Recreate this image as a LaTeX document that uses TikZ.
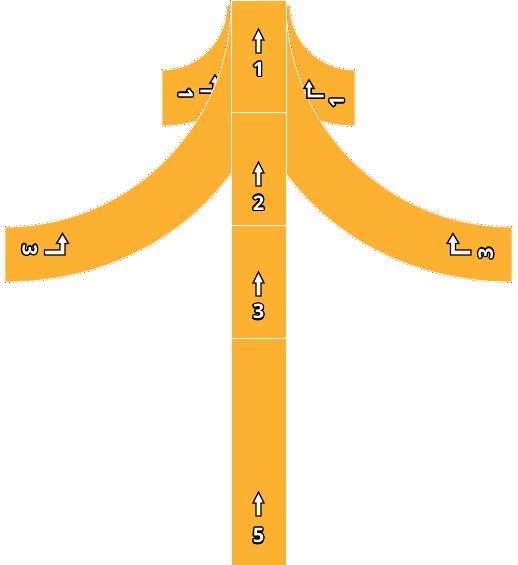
\documentclass[tikz,border=0pt]{standalone}
\usepackage{fontspec}
\usepackage{xcolor}
\usepackage[copies]{contour}
\usepackage{tikz}
\newfontfamily\lanefont{Open Sans}
\contourlength{1.3pt}
\definecolor{laneorange}{RGB}{253,177,48}

\tikzset{
  lane/.style={fill=laneorange, draw=white, line width=0.8pt},
  rim/.style={black, line width=1.6pt, dash pattern=on 0.8pt off 3pt},
  arrowicon/.style={fill=white, draw=black, line width=1.3pt, line join=miter},
  lanetext/.style={font=\lanefont\bfseries\fontsize{20}{20}\selectfont, text=white, inner sep=0pt}
}

% turn arrow, corner at the origin
\newcommand{\turnarrow}[1]{%
  \draw[arrowicon, #1] (-18,2.5) -- (2.5,2.5) -- (2.5,-9) -- (6,-9) -- (0,-19)
    -- (-6,-9) -- (-2.5,-9) -- (-2.5,-2.5) -- (-18,-2.5) -- cycle;}

\begin{document}
\begin{tikzpicture}[x=1pt, y=-1pt]
  \useasboundingbox (0,0) rectangle (517,565);
  \clip (0,0) rectangle (517,565);

  % left branches: short lane 1, then long lane 3
  \draw[rim] (162,70) arc[start angle=90, end angle=0, radius=65];
  \draw[rim] (283,5) arc[start angle=0, end angle=90, radius=121];
  \path[lane] (162,70) arc[start angle=90, end angle=0, radius=65] -- (283,5)
    arc[start angle=0, end angle=90, radius=121] -- cycle;
  \turnarrow{shift={(215,91)}, scale=0.85}
  \node[lanetext, rotate=-90] (leftone) at (185,94) {\contour{black}{1}};

  \draw[rim] (5,227) arc[start angle=90, end angle=0, radius=226];
  \draw[rim] (286,0) .. controls (286,163) and (168,282) .. (5,282);
  \path[lane] (5,227) arc[start angle=90, end angle=0, radius=226] -- (286,0)
    .. controls (286,163) and (168,282) .. (5,282) -- cycle;
  \turnarrow{shift={(62.5,252.5)}}
  \node[lanetext, rotate=-90] (leftthree) at (29,250) {\contour{black}{3}};

  % right branches
  \draw[rim] (355,70) arc[start angle=90, end angle=180, radius=65];
  \draw[rim] (234,5) arc[start angle=180, end angle=90, radius=121];
  \path[lane] (355,70) arc[start angle=90, end angle=180, radius=65] -- (234,5)
    arc[start angle=180, end angle=90, radius=121] -- cycle;

  \draw[rim] (512,227) arc[start angle=90, end angle=180, radius=226];
  \draw[rim] (231,0) .. controls (231,163) and (349,282) .. (512,282);
  \path[lane] (512,227) arc[start angle=90, end angle=180, radius=226] -- (231,0)
    .. controls (231,163) and (349,282) .. (512,282) -- cycle;
  \turnarrow{shift={(453,252.5)}, xscale=-1}
  \node[lanetext, rotate=90] (rightthree) at (486.5,253.5) {\contour{black}{3}};

  \turnarrow{shift={(309,96)}, xscale=-0.85, yscale=0.85}
  \node[lanetext, rotate=90] (rightone) at (337.5,102) {\contour{black}{1}};

  % main road, one box per segment
  \foreach \ya/\yb/\tip/\num/\numy in {0/112/29/1/70, 112/225/162/2/203.5,
      225/338/272/3/312.5, 338/565/492/5/536.5} {
    \path[lane] (231,\ya) rectangle (286,\yb);
    \draw[arrowicon, shift={(258.5,\tip)}] (0,0) -- (5.5,11) -- (2.5,11) -- (2.5,24)
      -- (-2.5,24) -- (-2.5,11) -- (-5.5,11) -- cycle;
    \node[lanetext] (road\num) at (258.5,\numy) {\contour{black}{\num}};
  }
\end{tikzpicture}
\end{document}
